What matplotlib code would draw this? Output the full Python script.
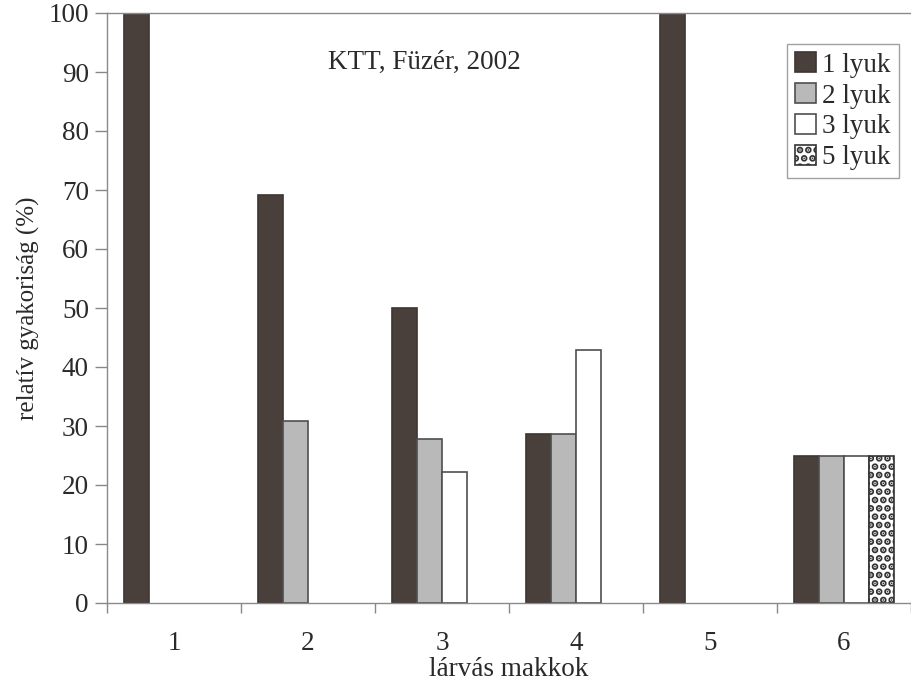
import matplotlib
matplotlib.use("Agg")
import matplotlib.pyplot as plt
from matplotlib.ticker import FixedLocator
import numpy as np

categories = ['1', '2', '3', '4', '5', '6']
series_names = ['1 lyuk', '2 lyuk', '3 lyuk', '5 lyuk']
lyuk1 = [100.0, 69.2, 50.0, 28.6, 100.0, 25.0]
lyuk2 = [0.0, 30.8, 27.8, 28.6, 0.0, 25.0]
lyuk3 = [0.0, 0.0, 22.2, 42.9, 0.0, 25.0]
lyuk5 = [0.0, 0.0, 0.0, 0.0, 0.0, 25.0]
y_ticks = [0, 10, 20, 30, 40, 50, 60, 70, 80, 90, 100]
title_text = 'KTT, Füzér, 2002'
xlabel_text = 'lárvás makkok'
ylabel_text = 'relatív gyakoriság (%)'

plt.rcParams['font.family'] = ['Liberation Serif', 'DejaVu Serif']
plt.rcParams['hatch.linewidth'] = 3.5
plt.rcParams['hatch.color'] = '#1e1e1e'

fig = plt.figure(figsize=(9.12, 6.86), dpi=100)
ax = fig.add_axes([107/912, 83/686, 804/912, 590/686])

x = np.arange(1, len(categories) + 1)
w = 0.1866
styles = [
    dict(facecolor='#4a403b', edgecolor='#3e3531', hatch=None),
    dict(facecolor='#b9b9b9', edgecolor='#4f4f4f', hatch=None),
    dict(facecolor='#ffffff', edgecolor='#4f4f4f', hatch=None),
    dict(facecolor='#ffffff', edgecolor='#333333', hatch='..'),
]
all_series = [lyuk1, lyuk2, lyuk3, lyuk5]
handles = []
for i, (vals, st, name) in enumerate(zip(all_series, styles, series_names)):
    vals = np.array(vals, dtype=float)
    mask = vals > 0
    offs = (i - 1.5) * w
    b = ax.bar(x[mask] + offs, vals[mask], width=w, facecolor=st['facecolor'],
               edgecolor=st['edgecolor'], hatch=st['hatch'], linewidth=1.2,
               label=name, zorder=2)
    handles.append(b)

ax.set_xlim(0.5, 6.5)
ax.set_ylim(0, 100)
ax.set_yticks(y_ticks)
ax.set_xticks(x)
ax.set_xticklabels(categories)
ax.xaxis.set_minor_locator(FixedLocator(np.arange(0.5, 7.0, 1.0)))
ax.tick_params(axis='x', which='major', length=0, pad=20, labelsize=19.5, colors='#2a2a2a')
ax.tick_params(axis='x', which='minor', length=7, width=1, color='#888888', direction='out')
ax.tick_params(axis='y', which='major', length=9, width=1, color='#888888', direction='out',
               pad=4, labelsize=19.5, labelcolor='#2a2a2a')

for s in ['left', 'bottom', 'top']:
    ax.spines[s].set_color('#8a8a8a')
    ax.spines[s].set_linewidth(1.0)
ax.spines['right'].set_visible(False)

ax.set_xlabel(xlabel_text, fontsize=19.5, color='#2a2a2a', labelpad=1)
ax.set_ylabel(ylabel_text, fontsize=18, color='#2a2a2a', labelpad=6)

ax.text(2.87, 91.6, title_text, ha='center', va='center', fontsize=19.5, color='#2a2a2a')

leg = ax.legend(handles=handles, loc='upper left', bbox_to_anchor=(0.846, 0.947),
                fontsize=19.5, frameon=True, fancybox=False, edgecolor='#8a8a8a',
                handlelength=0.75, handleheight=0.75, handletextpad=0.25,
                labelspacing=0.2, borderpad=0.3, borderaxespad=0)
leg.get_frame().set_linewidth(1.0)
for t in leg.get_texts():
    t.set_color('#2a2a2a')

fig.savefig('out.png', dpi=100, facecolor='white')
